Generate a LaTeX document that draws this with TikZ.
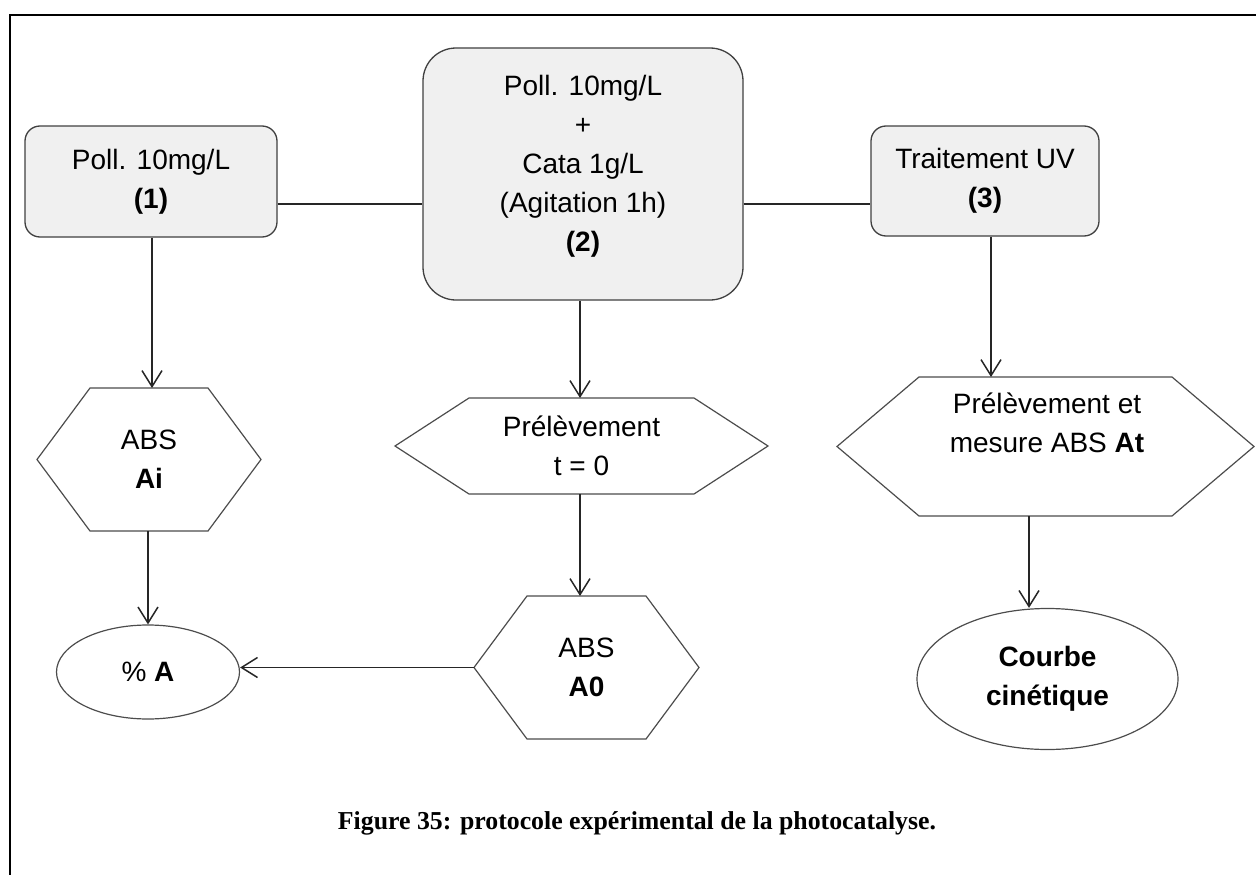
\documentclass[tikz,border=0pt]{standalone}
\usepackage{fontspec}
\setmainfont{Liberation Sans}
\newfontfamily\capfont{Liberation Serif}
\usetikzlibrary{arrows.meta,calc,shapes.geometric}
\newcommand\drawhex[2]{\draw[hexline] ($(#1.north west)+(#2,0)$) -- ($(#1.north east)+(-#2,0)$) -- (#1.east) -- ($(#1.south east)+(-#2,0)$) -- ($(#1.south west)+(#2,0)$) -- (#1.west) -- cycle;}
\begin{document}
\begin{tikzpicture}[x=1pt,y=-1pt,
  txt/.style={font=\fontsize{28}{39}\selectfont, align=center, inner sep=0pt},
  stepbox/.style={txt, draw=black!75, line width=1.3pt, fill=black!6, rounded corners=15pt},
  hexbox/.style={txt, outer sep=0pt},
  hexline/.style={draw=black!70, line width=1.2pt},
  endell/.style={txt, ellipse, draw=black!70, line width=1.2pt},
  conn/.style={line width=1.5pt, draw=black!85},
  arr/.style={conn, -{Straight Barb[length=16pt,width=20pt,line width=1.5pt]}},
]
\useasboundingbox (0,0) rectangle (1256,875);
\draw[line width=2.5pt] (10,875) -- (10,15) -- (1256,15);

% top boxes
\node[stepbox, minimum width=252pt, minimum height=111pt] (b1) at (151,181.5) {Poll. 10mg/L\\\textbf{(1)}};
\node[stepbox, rounded corners=33pt, minimum width=320pt, minimum height=252pt] (b2) at (583,174) {};
\node[txt] (t2) at (583,166) {Poll. 10mg/L\\+\\Cata 1g/L\\(Agitation 1h)\\\textbf{(2)}};
\node[stepbox, minimum width=228pt, minimum height=110pt] (b3) at (985,181) {Traitement UV\\\textbf{(3)}};

% hexagons
\node[hexbox, minimum width=224pt, minimum height=143pt] (h1) at (149,459.5) {ABS\\\textbf{Ai}};
\node[hexbox, minimum width=373pt, minimum height=96pt] (h2) at (581.5,446) {Prélèvement\\t = 0};
\node[hexbox, minimum width=225pt, minimum height=143pt] (h3) at (586.5,667.5) {ABS\\\textbf{A0}};
\node[hexbox, minimum width=417pt, minimum height=139pt] (h4) at (1045.5,446.5) {};
\node[txt] (t4) at (1047,423) {Prélèvement et\\mesure ABS \textbf{At}};
\drawhex{h1}{53}
\drawhex{h2}{74}
\drawhex{h3}{53}
\drawhex{h4}{82}

% ellipses
\node[endell, minimum width=183pt, minimum height=94pt] (e1) at (148,672) {\% \textbf{A}};
\node[endell, minimum width=261pt, minimum height=141pt] (e2) at (1047.5,679) {\textbf{Courbe}\\\textbf{cinétique}};

% connectors
\coordinate (ly) at (0,204);
\coordinate (c1a) at (152,0);
\coordinate (c1b) at (148,0);
\coordinate (c2) at (580,0);
\coordinate (c3a) at (991,0);
\coordinate (c3b) at (1029,0);
\draw[conn] (b1.east |- ly) -- (b2.west |- ly);
\draw[conn] (b2.east |- ly) -- (b3.west |- ly);
\draw[arr] (b1.south -| c1a) -- (h1.north -| c1a);
\draw[arr] (h1.south -| c1b) -- (e1.north -| c1b);
\draw[arr] (b2.south -| c2) -- (h2.north -| c2);
\draw[arr] (h2.south -| c2) -- (h3.north -| c2);
\draw[arr] (h3.west) -- (h3.west -| e1.east);
\draw[arr] (b3.south -| c3a) -- (h4.north -| c3a);
\draw[arr] (h4.south -| c3b) -- (e2.north -| c3b);

% caption
\node[font=\capfont\bfseries\fontsize{25.8}{30}\selectfont, anchor=base, inner sep=0pt] (cap) at (637,829) {Figure 35: protocole expérimental de la photocatalyse.};
\end{tikzpicture}
\end{document}
